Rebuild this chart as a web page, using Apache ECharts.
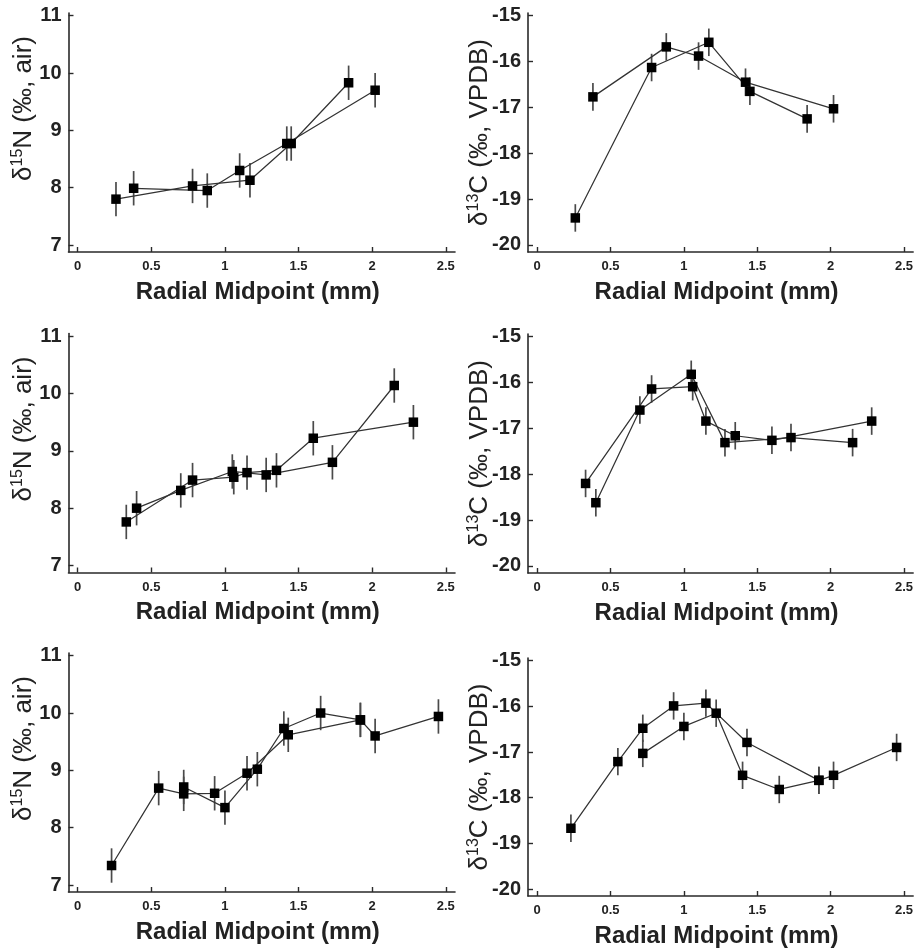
<!DOCTYPE html>
<html><head><meta charset="utf-8">
<script src="https://cdn.jsdelivr.net/npm/echarts@6/dist/echarts.min.js"></script>
<style>html,body{margin:0;padding:0;background:#fff}#c{width:916px;height:949px}</style>
</head><body><div id="c"></div>
<script>
// ---- tick labels ----
const xTicks = [0, 0.5, 1, 1.5, 2, 2.5];
const nTicks = [7, 8, 9, 10, 11];
const cTicks = [-20, -19, -18, -17, -16, -15];
const xTitle = 'Radial Midpoint (mm)';

// ---- top row: radial midpoints (mm) of the two transects ----
const xTop1 = [0.26, 0.78, 1.17, 1.45, 1.84];
const xTop2 = [0.38, 0.88, 1.10, 1.42, 2.02];
const nTop1 = [7.80, 8.03, 8.13, 8.77, 9.83];
const nTop2 = [7.99, 7.95, 8.30, 8.77, 9.70];
const cTop1 = [-19.41, -16.13, -15.58, -16.65, -17.25];
const cTop2 = [-16.77, -15.68, -15.88, -16.45, -17.03];

// ---- middle row ----
const xMid1 = [0.33, 0.78, 1.06, 1.15, 1.35, 1.60, 2.28];
const xMid2 = [0.40, 0.70, 1.05, 1.28, 1.73, 2.15];
const nMid1 = [7.76, 8.49, 8.54, 8.62, 8.66, 9.22, 9.50];
const nMid2 = [8.00, 8.31, 8.64, 8.58, 8.80, 10.14];
const cMid1 = [-18.20, -16.14, -16.09, -16.84, -17.16, -17.26, -16.84];
const cMid2 = [-18.62, -16.60, -15.82, -17.31, -17.20, -17.31];

// ---- bottom row ----
const xBot1 = [0.23, 0.55, 0.72, 0.93, 1.15, 1.43, 1.92];
const xBot2 = [0.72, 1.00, 1.22, 1.40, 1.65, 1.92, 2.02, 2.45];
const nBot1 = [7.34, 8.69, 8.59, 8.60, 8.95, 9.62, 9.88];
const nBot2 = [8.71, 8.35, 9.02, 9.73, 10.00, 9.88, 9.60, 9.94];
const cBot1 = [-18.67, -17.21, -16.48, -15.99, -15.93, -16.79, -17.62];
const cBot2 = [-17.03, -16.44, -16.15, -17.51, -17.82, -17.62, -17.51, -16.90];

// analytical uncertainty (±, permil) shown as error bars
const errN = 0.3;
const errC = 0.3;

const FONT = 'Liberation Sans, Arial, sans-serif';
const panels = [
  {xs:[xTop1,xTop2], ys:[nTop1,nTop2], err:errN, iso:'N', left:68.5, top:13,    ymin:6.878, ymax:11.047},
  {xs:[xTop1,xTop2], ys:[cTop1,cTop2], err:errC, iso:'C', left:528,  top:13,    ymin:-20.153, ymax:-14.941},
  {xs:[xMid1,xMid2], ys:[nMid1,nMid2], err:errN, iso:'N', left:68.5, top:333.5, ymin:6.878, ymax:11.047},
  {xs:[xMid1,xMid2], ys:[cMid1,cMid2], err:errC, iso:'C', left:528,  top:334,   ymin:-20.153, ymax:-14.941},
  {xs:[xBot1,xBot2], ys:[nBot1,nBot2], err:errN, iso:'N', left:68.5, top:653,   ymin:6.878, ymax:11.047},
  {xs:[xBot1,xBot2], ys:[cBot1,cBot2], err:errC, iso:'C', left:528,  top:658,   ymin:-20.153, ymax:-14.941}
];

const W = 386.5, H = 239;
const grids = [], xAxes = [], yAxes = [], series = [];
const axisColor = '#2a2a2a';

panels.forEach((p, i) => {
  grids.push({left: p.left, top: p.top, width: W, height: H, containLabel: false});
  xAxes.push({
    type: 'value', gridIndex: i, min: -0.0625, max: 2.5625,
    axisLine: {show: true, onZero: false, lineStyle: {color: axisColor, width: 1.6}},
    axisTick: {show: true, inside: true, length: 5, customValues: xTicks, lineStyle: {color: axisColor, width: 1.4}},
    axisLabel: {customValues: xTicks, fontSize: 13, fontWeight: 'bold', color: '#222', margin: 8, fontFamily: FONT,
      formatter: v => String(v)},
    splitLine: {show: false},
    name: xTitle, nameLocation: 'middle', nameGap: 28, nameMoveOverlap: false,
    nameTextStyle: {fontSize: 24, fontWeight: 'bold', color: '#222', fontFamily: FONT, padding: [0, 8, 0, 0]}
  });
  const isN = p.iso === 'N';
  const yt = isN ? nTicks : cTicks;
  yAxes.push({
    type: 'value', gridIndex: i, min: p.ymin, max: p.ymax,
    axisLine: {show: true, onZero: false, lineStyle: {color: axisColor, width: 1.6}},
    axisTick: {show: true, inside: true, length: 5, customValues: yt, lineStyle: {color: axisColor, width: 1.4}},
    axisLabel: {customValues: yt, fontSize: 20, fontWeight: 'bold', color: '#222', margin: 7, fontFamily: FONT,
      formatter: v => String(v)},
    splitLine: {show: false},
    name: isN ? '{a|δ}{s|15}{a|N (‰, air)}' : '{a|δ}{s|13}{a|C (‰, VPDB)}',
    nameLocation: 'middle', nameGap: isN ? 30.5 : 34.5, nameMoveOverlap: false,
    nameTextStyle: {
      color: '#222', fontFamily: FONT,
      padding: isN ? [0, 0, 0, 48] : [0, 0, 0, 0],
      rich: {
        a: {fontSize: 26, fontFamily: FONT, color: '#222', lineHeight: 28},
        s: {fontSize: 16, fontFamily: FONT, color: '#222', verticalAlign: 'top', lineHeight: 28}
      }
    }
  });
  p.xs.forEach((xArr, k) => {
    const yArr = p.ys[k];
    const pts = xArr.map((x, j) => [x, yArr[j]]);
    series.push({
      type: 'custom', xAxisIndex: i, yAxisIndex: i, z: 1, silent: true,
      data: pts.map(d => [d[0], d[1], p.err]),
      renderItem: (params, api) => {
        const x = api.value(0), y = api.value(1), e = api.value(2);
        const a = api.coord([x, y - e]), b = api.coord([x, y + e]);
        return {type: 'line', shape: {x1: a[0], y1: a[1], x2: b[0], y2: b[1]},
          style: {stroke: '#4a4a4a', lineWidth: 1.7}};
      }
    });
    series.push({
      type: 'line', xAxisIndex: i, yAxisIndex: i, z: 3, silent: true,
      data: pts, symbol: 'rect', symbolSize: 9.5,
      itemStyle: {color: '#000'}, lineStyle: {color: '#333', width: 1.25},
      emphasis: {disabled: true}
    });
  });
});

const chart = echarts.init(document.getElementById('c'), null, {renderer: 'canvas'});
chart.setOption({
  animation: false, backgroundColor: '#fff',
  grid: grids, xAxis: xAxes, yAxis: yAxes, series: series
});
</script>
</body></html>
